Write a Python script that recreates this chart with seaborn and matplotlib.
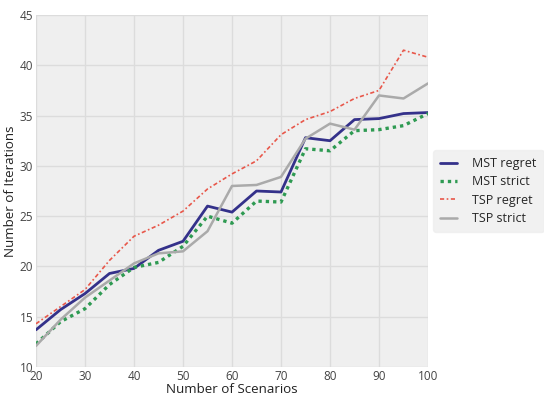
import matplotlib
matplotlib.use("Agg")
import matplotlib.pyplot as plt
import seaborn as sns
import pandas as pd

scenarios = [20, 25, 30, 35, 40, 45, 50, 55, 60, 65, 70, 75, 80, 85, 90, 95, 100]
mst_regret = [13.7, 15.7, 17.3, 19.3, 19.8, 21.6, 22.5, 26.0, 25.4, 27.5, 27.4, 32.8, 32.5, 34.6, 34.7, 35.2, 35.3]
mst_strict = [12.3, 14.5, 15.8, 18.2, 19.9, 20.4, 22.0, 25.0, 24.3, 26.5, 26.4, 31.7, 31.5, 33.5, 33.6, 34.0, 35.2]
tsp_regret = [14.3, 16.0, 17.7, 20.6, 23.0, 24.1, 25.5, 27.7, 29.2, 30.5, 33.1, 34.6, 35.4, 36.7, 37.5, 41.5, 40.8]
tsp_strict = [12.1, 14.7, 16.9, 18.6, 20.3, 21.3, 21.5, 23.5, 28.0, 28.1, 28.9, 32.7, 34.2, 33.6, 37.0, 36.7, 38.2]

series = [
    ("MST regret", mst_regret, "#34318a", "-", 2.0),
    ("MST strict", mst_strict, "#2e9a52", (0, (1, 1.2)), 2.4),
    ("TSP regret", tsp_regret, "#e8574a", (0, (2.5, 1.5, 1, 1.5)), 1.2),
    ("TSP strict", tsp_strict, "#aaaaaa", "-", 1.8),
]

sns.set_theme(style="darkgrid", rc={
    "axes.facecolor": "#efefef",
    "grid.color": "#dcdcdc",
    "grid.linewidth": 1.0,
    "axes.edgecolor": "#efefef",
})
plt.rcParams["font.family"] = ["Open Sans", "DejaVu Sans"]

fig = plt.figure(figsize=(5.44, 3.96), dpi=100)
ax = fig.add_axes([36 / 544, 29 / 396, 392 / 544, 352 / 396])

for name, vals, color, ls, lw in series:
    df = pd.DataFrame({"Number of Scenarios": scenarios, "Number of Iterations": vals})
    sns.lineplot(data=df, x="Number of Scenarios", y="Number of Iterations",
                 ax=ax, color=color, linestyle=ls, linewidth=lw, label=name)

ax.set_xlim(20, 100)
ax.set_ylim(10, 45)
ax.set_xticks(range(20, 101, 10))
ax.set_yticks(range(10, 46, 5))
ax.tick_params(axis="both", length=0, labelsize=8.5, colors="#444444", pad=2)
ax.set_xlabel("Number of Scenarios", fontsize=9.6, color="#222222", labelpad=0)
ax.set_ylabel("Number of Iterations", fontsize=9.6, color="#222222", labelpad=2)
for s in ax.spines.values():
    s.set_visible(False)

leg = ax.legend(loc="center left", bbox_to_anchor=(1.0, 0.50), frameon=True,
                fontsize=9, handlelength=1.4, borderpad=0.55, labelspacing=0.42,
                handletextpad=1.2, borderaxespad=0.4)
leg.get_frame().set_facecolor("#eeeeee")
leg.get_frame().set_edgecolor("#eeeeee")

fig.savefig("out.png", dpi=100)
